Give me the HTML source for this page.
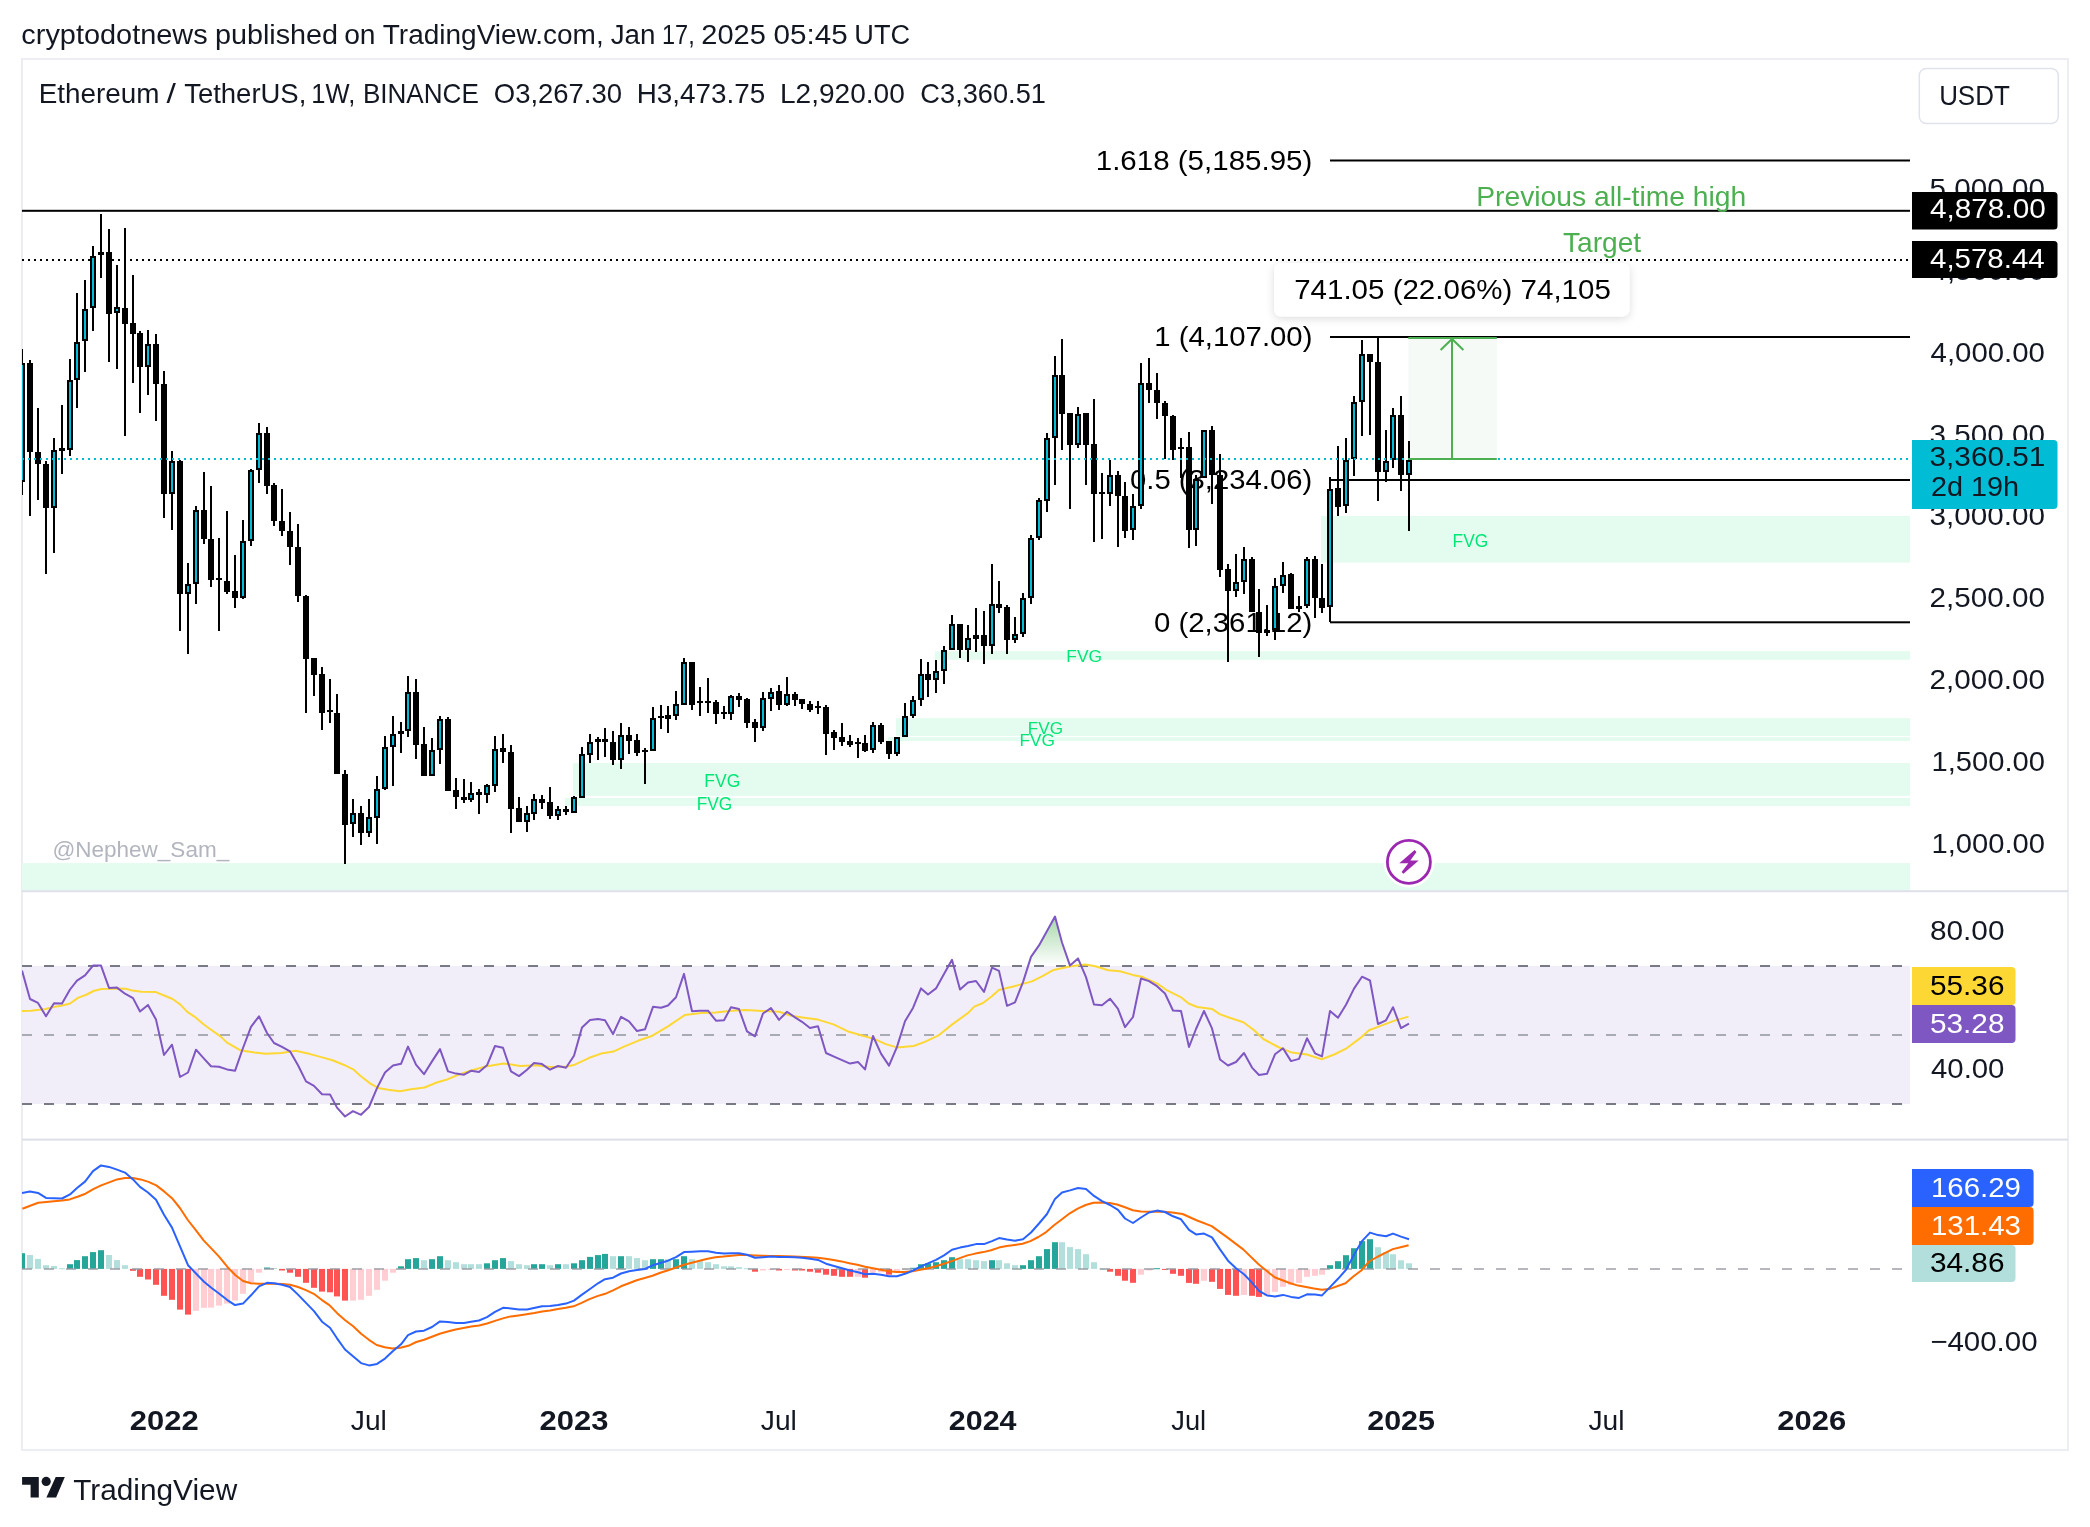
<!DOCTYPE html>
<html><head><meta charset="utf-8"><title>ETH/USDT chart</title>
<style>html,body{margin:0;padding:0;background:#fff;}
svg{display:block;will-change:transform;font-family:"Liberation Sans",sans-serif;}</style></head>
<body><svg width="2090" height="1527" viewBox="0 0 2090 1527">
<rect x="0" y="0" width="2090" height="1527" fill="#ffffff"/>
<defs><clipPath id="cc"><rect x="22" y="59" width="2046" height="1391"/></clipPath></defs>
<rect x="22" y="59" width="2046" height="1391" fill="none" stroke="#edeef3" stroke-width="2"/>
<rect x="21" y="59" width="1" height="1391" fill="#ebecf1"/>
<rect x="1321" y="516" width="589" height="46.6" fill="#e4fcef"/>
<rect x="935" y="651.2" width="975" height="8.6" fill="#e4fcef"/>
<rect x="896" y="718.2" width="1014" height="17.7" fill="#e4fcef"/>
<rect x="888" y="737.1" width="1022" height="3.9" fill="#e4fcef"/>
<rect x="573" y="763.1" width="1337" height="32.7" fill="#e4fcef"/>
<rect x="565" y="798" width="1345" height="8.0" fill="#e4fcef"/>
<rect x="22" y="863.1" width="1888" height="26.9" fill="#e4fcef"/>
<rect x="1408.3" y="338" width="88.5" height="121" fill="#f6faf7"/>
<rect x="22" y="209.8" width="1888" height="2" fill="#000"/>
<line x1="22" y1="260" x2="1910" y2="260" stroke="#000" stroke-width="2" stroke-dasharray="2 4"/>
<rect x="1330" y="159.5" width="580" height="2" fill="#000"/>
<rect x="1330" y="336.0" width="580" height="2" fill="#000"/>
<rect x="1330" y="479.0" width="580" height="2" fill="#000"/>
<rect x="1330" y="621.3" width="580" height="2" fill="#000"/>
<text transform="translate(1095.74,170.20) scale(1.0749,1)" font-size="27.47" fill="#000">1.618 (5,185.95)</text>
<text transform="translate(1154.33,346.10) scale(1.0674,1)" font-size="27.47" fill="#000">1 (4,107.00)</text>
<text transform="translate(1129.98,489.20) scale(1.0666,1)" font-size="27.47" fill="#000">0.5 (3,234.06)</text>
<text transform="translate(1153.98,632.00) scale(1.0696,1)" font-size="27.47" fill="#000">0 (2,361.12)</text>
<g clip-path="url(#cc)">
<rect x="21" y="349" width="2" height="146" fill="#000"/>
<rect x="19" y="363" width="6" height="119" fill="#000"/>
<rect x="21" y="365" width="2" height="115" fill="#00bcd4"/>
<rect x="29" y="360" width="2" height="156" fill="#000"/>
<rect x="27" y="363" width="6" height="89" fill="#000"/>
<rect x="37" y="408" width="2" height="92" fill="#000"/>
<rect x="35" y="452" width="6" height="12" fill="#000"/>
<rect x="45" y="461" width="2" height="113" fill="#000"/>
<rect x="43" y="464" width="6" height="44" fill="#000"/>
<rect x="53" y="438" width="2" height="115" fill="#000"/>
<rect x="51" y="450" width="6" height="58" fill="#000"/>
<rect x="53" y="452" width="2" height="54" fill="#00bcd4"/>
<rect x="61" y="405" width="2" height="69" fill="#000"/>
<rect x="59" y="448" width="6" height="3" fill="#000"/>
<rect x="69" y="359" width="2" height="97" fill="#000"/>
<rect x="67" y="380" width="6" height="70" fill="#000"/>
<rect x="69" y="382" width="2" height="66" fill="#00bcd4"/>
<rect x="76" y="293" width="2" height="115" fill="#000"/>
<rect x="74" y="342" width="6" height="38" fill="#000"/>
<rect x="76" y="344" width="2" height="34" fill="#00bcd4"/>
<rect x="84" y="280" width="2" height="92" fill="#000"/>
<rect x="82" y="309" width="6" height="32" fill="#000"/>
<rect x="84" y="311" width="2" height="28" fill="#00bcd4"/>
<rect x="92" y="246" width="2" height="85" fill="#000"/>
<rect x="90" y="256" width="6" height="52" fill="#000"/>
<rect x="92" y="258" width="2" height="48" fill="#00bcd4"/>
<rect x="100" y="214" width="2" height="64" fill="#000"/>
<rect x="98" y="252" width="6" height="3" fill="#000"/>
<rect x="108" y="229" width="2" height="133" fill="#000"/>
<rect x="106" y="252" width="6" height="62" fill="#000"/>
<rect x="116" y="265" width="2" height="104" fill="#000"/>
<rect x="114" y="307" width="6" height="6" fill="#000"/>
<rect x="116" y="309" width="2" height="2" fill="#00bcd4"/>
<rect x="124" y="228" width="2" height="208" fill="#000"/>
<rect x="122" y="308" width="6" height="16" fill="#000"/>
<rect x="132" y="275" width="2" height="108" fill="#000"/>
<rect x="130" y="323" width="6" height="11" fill="#000"/>
<rect x="139" y="331" width="2" height="82" fill="#000"/>
<rect x="137" y="333" width="6" height="34" fill="#000"/>
<rect x="147" y="330" width="2" height="65" fill="#000"/>
<rect x="145" y="344" width="6" height="23" fill="#000"/>
<rect x="147" y="346" width="2" height="19" fill="#00bcd4"/>
<rect x="155" y="334" width="2" height="87" fill="#000"/>
<rect x="153" y="344" width="6" height="40" fill="#000"/>
<rect x="163" y="371" width="2" height="147" fill="#000"/>
<rect x="161" y="384" width="6" height="110" fill="#000"/>
<rect x="171" y="451" width="2" height="79" fill="#000"/>
<rect x="169" y="461" width="6" height="33" fill="#000"/>
<rect x="171" y="463" width="2" height="29" fill="#00bcd4"/>
<rect x="179" y="460" width="2" height="171" fill="#000"/>
<rect x="177" y="461" width="6" height="133" fill="#000"/>
<rect x="187" y="563" width="2" height="91" fill="#000"/>
<rect x="185" y="584" width="6" height="10" fill="#000"/>
<rect x="187" y="586" width="2" height="6" fill="#00bcd4"/>
<rect x="195" y="506" width="2" height="98" fill="#000"/>
<rect x="193" y="510" width="6" height="74" fill="#000"/>
<rect x="195" y="512" width="2" height="70" fill="#00bcd4"/>
<rect x="203" y="472" width="2" height="72" fill="#000"/>
<rect x="201" y="510" width="6" height="29" fill="#000"/>
<rect x="210" y="486" width="2" height="101" fill="#000"/>
<rect x="208" y="539" width="6" height="41" fill="#000"/>
<rect x="218" y="538" width="2" height="93" fill="#000"/>
<rect x="216" y="578" width="6" height="2" fill="#000"/>
<rect x="226" y="511" width="2" height="83" fill="#000"/>
<rect x="224" y="581" width="6" height="11" fill="#000"/>
<rect x="234" y="555" width="2" height="53" fill="#000"/>
<rect x="232" y="591" width="6" height="7" fill="#000"/>
<rect x="242" y="520" width="2" height="79" fill="#000"/>
<rect x="240" y="541" width="6" height="57" fill="#000"/>
<rect x="242" y="543" width="2" height="53" fill="#00bcd4"/>
<rect x="250" y="469" width="2" height="77" fill="#000"/>
<rect x="248" y="470" width="6" height="71" fill="#000"/>
<rect x="250" y="472" width="2" height="67" fill="#00bcd4"/>
<rect x="258" y="423" width="2" height="60" fill="#000"/>
<rect x="256" y="433" width="6" height="37" fill="#000"/>
<rect x="258" y="435" width="2" height="33" fill="#00bcd4"/>
<rect x="266" y="427" width="2" height="67" fill="#000"/>
<rect x="264" y="433" width="6" height="53" fill="#000"/>
<rect x="273" y="483" width="2" height="43" fill="#000"/>
<rect x="271" y="485" width="6" height="36" fill="#000"/>
<rect x="281" y="489" width="2" height="47" fill="#000"/>
<rect x="279" y="521" width="6" height="10" fill="#000"/>
<rect x="289" y="512" width="2" height="53" fill="#000"/>
<rect x="287" y="531" width="6" height="16" fill="#000"/>
<rect x="297" y="524" width="2" height="78" fill="#000"/>
<rect x="295" y="547" width="6" height="49" fill="#000"/>
<rect x="305" y="595" width="2" height="118" fill="#000"/>
<rect x="303" y="596" width="6" height="63" fill="#000"/>
<rect x="313" y="658" width="2" height="38" fill="#000"/>
<rect x="311" y="658" width="6" height="17" fill="#000"/>
<rect x="321" y="667" width="2" height="63" fill="#000"/>
<rect x="319" y="674" width="6" height="39" fill="#000"/>
<rect x="329" y="679" width="2" height="44" fill="#000"/>
<rect x="327" y="710" width="6" height="2" fill="#000"/>
<rect x="336" y="694" width="2" height="80" fill="#000"/>
<rect x="334" y="713" width="6" height="61" fill="#000"/>
<rect x="344" y="770" width="2" height="94" fill="#000"/>
<rect x="342" y="774" width="6" height="51" fill="#000"/>
<rect x="352" y="799" width="2" height="38" fill="#000"/>
<rect x="350" y="813" width="6" height="11" fill="#000"/>
<rect x="352" y="815" width="2" height="7" fill="#00bcd4"/>
<rect x="360" y="806" width="2" height="39" fill="#000"/>
<rect x="358" y="813" width="6" height="20" fill="#000"/>
<rect x="368" y="799" width="2" height="38" fill="#000"/>
<rect x="366" y="817" width="6" height="16" fill="#000"/>
<rect x="368" y="819" width="2" height="12" fill="#00bcd4"/>
<rect x="376" y="776" width="2" height="68" fill="#000"/>
<rect x="374" y="789" width="6" height="29" fill="#000"/>
<rect x="376" y="791" width="2" height="25" fill="#00bcd4"/>
<rect x="384" y="736" width="2" height="54" fill="#000"/>
<rect x="382" y="747" width="6" height="42" fill="#000"/>
<rect x="384" y="749" width="2" height="38" fill="#00bcd4"/>
<rect x="392" y="716" width="2" height="70" fill="#000"/>
<rect x="390" y="734" width="6" height="13" fill="#000"/>
<rect x="392" y="736" width="2" height="9" fill="#00bcd4"/>
<rect x="400" y="722" width="2" height="31" fill="#000"/>
<rect x="398" y="731" width="6" height="3" fill="#000"/>
<rect x="407" y="676" width="2" height="61" fill="#000"/>
<rect x="405" y="692" width="6" height="39" fill="#000"/>
<rect x="407" y="694" width="2" height="35" fill="#00bcd4"/>
<rect x="415" y="679" width="2" height="80" fill="#000"/>
<rect x="413" y="692" width="6" height="53" fill="#000"/>
<rect x="423" y="727" width="2" height="49" fill="#000"/>
<rect x="421" y="744" width="6" height="32" fill="#000"/>
<rect x="431" y="738" width="2" height="38" fill="#000"/>
<rect x="429" y="750" width="6" height="26" fill="#000"/>
<rect x="431" y="752" width="2" height="22" fill="#00bcd4"/>
<rect x="439" y="716" width="2" height="48" fill="#000"/>
<rect x="437" y="719" width="6" height="31" fill="#000"/>
<rect x="439" y="721" width="2" height="27" fill="#00bcd4"/>
<rect x="447" y="717" width="2" height="74" fill="#000"/>
<rect x="445" y="719" width="6" height="72" fill="#000"/>
<rect x="455" y="778" width="2" height="31" fill="#000"/>
<rect x="453" y="790" width="6" height="7" fill="#000"/>
<rect x="463" y="779" width="2" height="24" fill="#000"/>
<rect x="461" y="797" width="6" height="3" fill="#000"/>
<rect x="470" y="782" width="2" height="20" fill="#000"/>
<rect x="468" y="793" width="6" height="7" fill="#000"/>
<rect x="470" y="795" width="2" height="3" fill="#00bcd4"/>
<rect x="478" y="789" width="2" height="25" fill="#000"/>
<rect x="476" y="792" width="6" height="3" fill="#000"/>
<rect x="486" y="784" width="2" height="19" fill="#000"/>
<rect x="484" y="785" width="6" height="10" fill="#000"/>
<rect x="486" y="787" width="2" height="6" fill="#00bcd4"/>
<rect x="494" y="736" width="2" height="56" fill="#000"/>
<rect x="492" y="749" width="6" height="37" fill="#000"/>
<rect x="494" y="751" width="2" height="33" fill="#00bcd4"/>
<rect x="502" y="734" width="2" height="29" fill="#000"/>
<rect x="500" y="748" width="6" height="4" fill="#000"/>
<rect x="510" y="745" width="2" height="88" fill="#000"/>
<rect x="508" y="752" width="6" height="57" fill="#000"/>
<rect x="518" y="797" width="2" height="25" fill="#000"/>
<rect x="516" y="808" width="6" height="14" fill="#000"/>
<rect x="526" y="806" width="2" height="26" fill="#000"/>
<rect x="524" y="813" width="6" height="9" fill="#000"/>
<rect x="526" y="815" width="2" height="5" fill="#00bcd4"/>
<rect x="533" y="794" width="2" height="26" fill="#000"/>
<rect x="531" y="799" width="6" height="15" fill="#000"/>
<rect x="533" y="801" width="2" height="11" fill="#00bcd4"/>
<rect x="541" y="795" width="2" height="14" fill="#000"/>
<rect x="539" y="799" width="6" height="4" fill="#000"/>
<rect x="549" y="787" width="2" height="32" fill="#000"/>
<rect x="547" y="802" width="6" height="14" fill="#000"/>
<rect x="557" y="806" width="2" height="14" fill="#000"/>
<rect x="555" y="809" width="6" height="7" fill="#000"/>
<rect x="557" y="811" width="2" height="3" fill="#00bcd4"/>
<rect x="565" y="806" width="2" height="9" fill="#000"/>
<rect x="563" y="809" width="6" height="3" fill="#000"/>
<rect x="573" y="796" width="2" height="17" fill="#000"/>
<rect x="571" y="797" width="6" height="16" fill="#000"/>
<rect x="573" y="799" width="2" height="12" fill="#00bcd4"/>
<rect x="581" y="747" width="2" height="51" fill="#000"/>
<rect x="579" y="754" width="6" height="44" fill="#000"/>
<rect x="581" y="756" width="2" height="40" fill="#00bcd4"/>
<rect x="589" y="734" width="2" height="29" fill="#000"/>
<rect x="587" y="742" width="6" height="13" fill="#000"/>
<rect x="589" y="744" width="2" height="9" fill="#00bcd4"/>
<rect x="597" y="737" width="2" height="23" fill="#000"/>
<rect x="595" y="739" width="6" height="3" fill="#000"/>
<rect x="604" y="728" width="2" height="29" fill="#000"/>
<rect x="602" y="739" width="6" height="3" fill="#000"/>
<rect x="612" y="731" width="2" height="34" fill="#000"/>
<rect x="610" y="742" width="6" height="18" fill="#000"/>
<rect x="620" y="723" width="2" height="46" fill="#000"/>
<rect x="618" y="735" width="6" height="25" fill="#000"/>
<rect x="620" y="737" width="2" height="21" fill="#00bcd4"/>
<rect x="628" y="727" width="2" height="27" fill="#000"/>
<rect x="626" y="735" width="6" height="6" fill="#000"/>
<rect x="636" y="734" width="2" height="22" fill="#000"/>
<rect x="634" y="740" width="6" height="13" fill="#000"/>
<rect x="644" y="748" width="2" height="36" fill="#000"/>
<rect x="642" y="750" width="6" height="2" fill="#000"/>
<rect x="652" y="707" width="2" height="44" fill="#000"/>
<rect x="650" y="718" width="6" height="33" fill="#000"/>
<rect x="652" y="720" width="2" height="29" fill="#00bcd4"/>
<rect x="660" y="705" width="2" height="24" fill="#000"/>
<rect x="658" y="716" width="6" height="2" fill="#000"/>
<rect x="667" y="706" width="2" height="27" fill="#000"/>
<rect x="665" y="715" width="6" height="4" fill="#000"/>
<rect x="675" y="691" width="2" height="29" fill="#000"/>
<rect x="673" y="704" width="6" height="12" fill="#000"/>
<rect x="675" y="706" width="2" height="8" fill="#00bcd4"/>
<rect x="683" y="658" width="2" height="47" fill="#000"/>
<rect x="681" y="662" width="6" height="43" fill="#000"/>
<rect x="683" y="664" width="2" height="39" fill="#00bcd4"/>
<rect x="691" y="662" width="2" height="48" fill="#000"/>
<rect x="689" y="662" width="6" height="43" fill="#000"/>
<rect x="699" y="687" width="2" height="29" fill="#000"/>
<rect x="697" y="701" width="6" height="2" fill="#000"/>
<rect x="707" y="678" width="2" height="35" fill="#000"/>
<rect x="705" y="701" width="6" height="2" fill="#000"/>
<rect x="715" y="700" width="2" height="24" fill="#000"/>
<rect x="713" y="702" width="6" height="12" fill="#000"/>
<rect x="723" y="706" width="2" height="13" fill="#000"/>
<rect x="721" y="712" width="6" height="2" fill="#000"/>
<rect x="730" y="695" width="2" height="25" fill="#000"/>
<rect x="728" y="696" width="6" height="18" fill="#000"/>
<rect x="730" y="698" width="2" height="14" fill="#00bcd4"/>
<rect x="738" y="693" width="2" height="14" fill="#000"/>
<rect x="736" y="696" width="6" height="4" fill="#000"/>
<rect x="746" y="698" width="2" height="30" fill="#000"/>
<rect x="744" y="699" width="6" height="24" fill="#000"/>
<rect x="754" y="719" width="2" height="23" fill="#000"/>
<rect x="752" y="722" width="6" height="6" fill="#000"/>
<rect x="762" y="692" width="2" height="39" fill="#000"/>
<rect x="760" y="698" width="6" height="30" fill="#000"/>
<rect x="762" y="700" width="2" height="26" fill="#00bcd4"/>
<rect x="770" y="688" width="2" height="23" fill="#000"/>
<rect x="768" y="692" width="6" height="7" fill="#000"/>
<rect x="770" y="694" width="2" height="3" fill="#00bcd4"/>
<rect x="778" y="685" width="2" height="25" fill="#000"/>
<rect x="776" y="691" width="6" height="14" fill="#000"/>
<rect x="786" y="677" width="2" height="29" fill="#000"/>
<rect x="784" y="694" width="6" height="11" fill="#000"/>
<rect x="786" y="696" width="2" height="7" fill="#00bcd4"/>
<rect x="794" y="692" width="2" height="14" fill="#000"/>
<rect x="792" y="694" width="6" height="6" fill="#000"/>
<rect x="801" y="699" width="2" height="10" fill="#000"/>
<rect x="799" y="699" width="6" height="5" fill="#000"/>
<rect x="809" y="701" width="2" height="11" fill="#000"/>
<rect x="807" y="704" width="6" height="6" fill="#000"/>
<rect x="817" y="701" width="2" height="13" fill="#000"/>
<rect x="815" y="706" width="6" height="2" fill="#000"/>
<rect x="825" y="705" width="2" height="50" fill="#000"/>
<rect x="823" y="707" width="6" height="27" fill="#000"/>
<rect x="833" y="730" width="2" height="20" fill="#000"/>
<rect x="831" y="732" width="6" height="6" fill="#000"/>
<rect x="841" y="723" width="2" height="23" fill="#000"/>
<rect x="839" y="737" width="6" height="5" fill="#000"/>
<rect x="849" y="735" width="2" height="12" fill="#000"/>
<rect x="847" y="741" width="6" height="4" fill="#000"/>
<rect x="857" y="738" width="2" height="20" fill="#000"/>
<rect x="855" y="742" width="6" height="2" fill="#000"/>
<rect x="864" y="735" width="2" height="17" fill="#000"/>
<rect x="862" y="743" width="6" height="8" fill="#000"/>
<rect x="872" y="722" width="2" height="31" fill="#000"/>
<rect x="870" y="725" width="6" height="25" fill="#000"/>
<rect x="872" y="727" width="2" height="21" fill="#00bcd4"/>
<rect x="880" y="723" width="2" height="21" fill="#000"/>
<rect x="878" y="725" width="6" height="17" fill="#000"/>
<rect x="888" y="741" width="2" height="18" fill="#000"/>
<rect x="886" y="741" width="6" height="13" fill="#000"/>
<rect x="896" y="737" width="2" height="19" fill="#000"/>
<rect x="894" y="737" width="6" height="17" fill="#000"/>
<rect x="896" y="739" width="2" height="13" fill="#00bcd4"/>
<rect x="904" y="703" width="2" height="34" fill="#000"/>
<rect x="902" y="716" width="6" height="21" fill="#000"/>
<rect x="904" y="718" width="2" height="17" fill="#00bcd4"/>
<rect x="912" y="696" width="2" height="22" fill="#000"/>
<rect x="910" y="700" width="6" height="16" fill="#000"/>
<rect x="912" y="702" width="2" height="12" fill="#00bcd4"/>
<rect x="920" y="659" width="2" height="47" fill="#000"/>
<rect x="918" y="674" width="6" height="26" fill="#000"/>
<rect x="920" y="676" width="2" height="22" fill="#00bcd4"/>
<rect x="927" y="662" width="2" height="35" fill="#000"/>
<rect x="925" y="674" width="6" height="6" fill="#000"/>
<rect x="935" y="660" width="2" height="33" fill="#000"/>
<rect x="933" y="671" width="6" height="9" fill="#000"/>
<rect x="935" y="673" width="2" height="5" fill="#00bcd4"/>
<rect x="943" y="646" width="2" height="38" fill="#000"/>
<rect x="941" y="650" width="6" height="21" fill="#000"/>
<rect x="943" y="652" width="2" height="17" fill="#00bcd4"/>
<rect x="951" y="615" width="2" height="35" fill="#000"/>
<rect x="949" y="624" width="6" height="26" fill="#000"/>
<rect x="951" y="626" width="2" height="22" fill="#00bcd4"/>
<rect x="959" y="624" width="2" height="34" fill="#000"/>
<rect x="957" y="624" width="6" height="26" fill="#000"/>
<rect x="967" y="625" width="2" height="37" fill="#000"/>
<rect x="965" y="638" width="6" height="12" fill="#000"/>
<rect x="967" y="640" width="2" height="8" fill="#00bcd4"/>
<rect x="975" y="608" width="2" height="44" fill="#000"/>
<rect x="973" y="635" width="6" height="4" fill="#000"/>
<rect x="983" y="611" width="2" height="53" fill="#000"/>
<rect x="981" y="635" width="6" height="11" fill="#000"/>
<rect x="991" y="564" width="2" height="90" fill="#000"/>
<rect x="989" y="604" width="6" height="42" fill="#000"/>
<rect x="991" y="606" width="2" height="38" fill="#00bcd4"/>
<rect x="998" y="581" width="2" height="32" fill="#000"/>
<rect x="996" y="604" width="6" height="4" fill="#000"/>
<rect x="1006" y="605" width="2" height="49" fill="#000"/>
<rect x="1004" y="607" width="6" height="33" fill="#000"/>
<rect x="1014" y="617" width="2" height="26" fill="#000"/>
<rect x="1012" y="634" width="6" height="6" fill="#000"/>
<rect x="1014" y="636" width="2" height="2" fill="#00bcd4"/>
<rect x="1022" y="593" width="2" height="44" fill="#000"/>
<rect x="1020" y="598" width="6" height="36" fill="#000"/>
<rect x="1022" y="600" width="2" height="32" fill="#00bcd4"/>
<rect x="1030" y="535" width="2" height="69" fill="#000"/>
<rect x="1028" y="538" width="6" height="60" fill="#000"/>
<rect x="1030" y="540" width="2" height="56" fill="#00bcd4"/>
<rect x="1038" y="498" width="2" height="42" fill="#000"/>
<rect x="1036" y="500" width="6" height="38" fill="#000"/>
<rect x="1038" y="502" width="2" height="34" fill="#00bcd4"/>
<rect x="1046" y="433" width="2" height="79" fill="#000"/>
<rect x="1044" y="438" width="6" height="63" fill="#000"/>
<rect x="1046" y="440" width="2" height="59" fill="#00bcd4"/>
<rect x="1054" y="356" width="2" height="129" fill="#000"/>
<rect x="1052" y="375" width="6" height="63" fill="#000"/>
<rect x="1054" y="377" width="2" height="59" fill="#00bcd4"/>
<rect x="1061" y="339" width="2" height="111" fill="#000"/>
<rect x="1059" y="375" width="6" height="39" fill="#000"/>
<rect x="1069" y="413" width="2" height="96" fill="#000"/>
<rect x="1067" y="413" width="6" height="32" fill="#000"/>
<rect x="1077" y="407" width="2" height="41" fill="#000"/>
<rect x="1075" y="414" width="6" height="31" fill="#000"/>
<rect x="1077" y="416" width="2" height="27" fill="#00bcd4"/>
<rect x="1085" y="413" width="2" height="72" fill="#000"/>
<rect x="1083" y="413" width="6" height="32" fill="#000"/>
<rect x="1093" y="399" width="2" height="143" fill="#000"/>
<rect x="1091" y="444" width="6" height="50" fill="#000"/>
<rect x="1101" y="473" width="2" height="66" fill="#000"/>
<rect x="1099" y="492" width="6" height="2" fill="#000"/>
<rect x="1109" y="460" width="2" height="46" fill="#000"/>
<rect x="1107" y="475" width="6" height="19" fill="#000"/>
<rect x="1109" y="477" width="2" height="15" fill="#00bcd4"/>
<rect x="1117" y="471" width="2" height="76" fill="#000"/>
<rect x="1115" y="475" width="6" height="21" fill="#000"/>
<rect x="1124" y="482" width="2" height="56" fill="#000"/>
<rect x="1122" y="496" width="6" height="35" fill="#000"/>
<rect x="1132" y="494" width="2" height="46" fill="#000"/>
<rect x="1130" y="506" width="6" height="24" fill="#000"/>
<rect x="1132" y="508" width="2" height="20" fill="#00bcd4"/>
<rect x="1140" y="363" width="2" height="146" fill="#000"/>
<rect x="1138" y="383" width="6" height="123" fill="#000"/>
<rect x="1140" y="385" width="2" height="119" fill="#00bcd4"/>
<rect x="1148" y="358" width="2" height="45" fill="#000"/>
<rect x="1146" y="383" width="6" height="7" fill="#000"/>
<rect x="1156" y="373" width="2" height="46" fill="#000"/>
<rect x="1154" y="390" width="6" height="13" fill="#000"/>
<rect x="1164" y="401" width="2" height="58" fill="#000"/>
<rect x="1162" y="403" width="6" height="13" fill="#000"/>
<rect x="1172" y="415" width="2" height="45" fill="#000"/>
<rect x="1170" y="416" width="6" height="34" fill="#000"/>
<rect x="1180" y="438" width="2" height="40" fill="#000"/>
<rect x="1178" y="447" width="6" height="2" fill="#000"/>
<rect x="1188" y="432" width="2" height="116" fill="#000"/>
<rect x="1186" y="447" width="6" height="83" fill="#000"/>
<rect x="1195" y="475" width="2" height="71" fill="#000"/>
<rect x="1193" y="479" width="6" height="51" fill="#000"/>
<rect x="1195" y="481" width="2" height="47" fill="#00bcd4"/>
<rect x="1203" y="430" width="2" height="48" fill="#000"/>
<rect x="1201" y="430" width="6" height="48" fill="#000"/>
<rect x="1203" y="432" width="2" height="44" fill="#00bcd4"/>
<rect x="1211" y="426" width="2" height="78" fill="#000"/>
<rect x="1209" y="430" width="6" height="45" fill="#000"/>
<rect x="1219" y="454" width="2" height="123" fill="#000"/>
<rect x="1217" y="475" width="6" height="95" fill="#000"/>
<rect x="1227" y="564" width="2" height="98" fill="#000"/>
<rect x="1225" y="569" width="6" height="22" fill="#000"/>
<rect x="1235" y="554" width="2" height="43" fill="#000"/>
<rect x="1233" y="582" width="6" height="9" fill="#000"/>
<rect x="1235" y="584" width="2" height="5" fill="#00bcd4"/>
<rect x="1243" y="547" width="2" height="47" fill="#000"/>
<rect x="1241" y="559" width="6" height="23" fill="#000"/>
<rect x="1243" y="561" width="2" height="19" fill="#00bcd4"/>
<rect x="1251" y="557" width="2" height="55" fill="#000"/>
<rect x="1249" y="559" width="6" height="53" fill="#000"/>
<rect x="1258" y="589" width="2" height="68" fill="#000"/>
<rect x="1256" y="612" width="6" height="21" fill="#000"/>
<rect x="1266" y="605" width="2" height="31" fill="#000"/>
<rect x="1264" y="630" width="6" height="3" fill="#000"/>
<rect x="1274" y="578" width="2" height="62" fill="#000"/>
<rect x="1272" y="586" width="6" height="44" fill="#000"/>
<rect x="1274" y="588" width="2" height="40" fill="#00bcd4"/>
<rect x="1282" y="562" width="2" height="31" fill="#000"/>
<rect x="1280" y="575" width="6" height="11" fill="#000"/>
<rect x="1282" y="577" width="2" height="7" fill="#00bcd4"/>
<rect x="1290" y="573" width="2" height="36" fill="#000"/>
<rect x="1288" y="574" width="6" height="35" fill="#000"/>
<rect x="1298" y="596" width="2" height="16" fill="#000"/>
<rect x="1296" y="606" width="6" height="3" fill="#000"/>
<rect x="1306" y="557" width="2" height="51" fill="#000"/>
<rect x="1304" y="559" width="6" height="47" fill="#000"/>
<rect x="1306" y="561" width="2" height="43" fill="#00bcd4"/>
<rect x="1314" y="556" width="2" height="62" fill="#000"/>
<rect x="1312" y="559" width="6" height="39" fill="#000"/>
<rect x="1321" y="564" width="2" height="49" fill="#000"/>
<rect x="1319" y="598" width="6" height="10" fill="#000"/>
<rect x="1329" y="477" width="2" height="145" fill="#000"/>
<rect x="1327" y="489" width="6" height="118" fill="#000"/>
<rect x="1329" y="491" width="2" height="114" fill="#00bcd4"/>
<rect x="1337" y="446" width="2" height="70" fill="#000"/>
<rect x="1335" y="488" width="6" height="19" fill="#000"/>
<rect x="1345" y="438" width="2" height="75" fill="#000"/>
<rect x="1343" y="460" width="6" height="46" fill="#000"/>
<rect x="1345" y="462" width="2" height="42" fill="#00bcd4"/>
<rect x="1353" y="396" width="2" height="80" fill="#000"/>
<rect x="1351" y="402" width="6" height="57" fill="#000"/>
<rect x="1353" y="404" width="2" height="53" fill="#00bcd4"/>
<rect x="1361" y="340" width="2" height="96" fill="#000"/>
<rect x="1359" y="354" width="6" height="48" fill="#000"/>
<rect x="1361" y="356" width="2" height="44" fill="#00bcd4"/>
<rect x="1369" y="354" width="2" height="81" fill="#000"/>
<rect x="1367" y="354" width="6" height="8" fill="#000"/>
<rect x="1377" y="337" width="2" height="164" fill="#000"/>
<rect x="1375" y="362" width="6" height="110" fill="#000"/>
<rect x="1385" y="430" width="2" height="52" fill="#000"/>
<rect x="1383" y="461" width="6" height="11" fill="#000"/>
<rect x="1385" y="463" width="2" height="7" fill="#00bcd4"/>
<rect x="1392" y="408" width="2" height="60" fill="#000"/>
<rect x="1390" y="415" width="6" height="45" fill="#000"/>
<rect x="1392" y="417" width="2" height="41" fill="#00bcd4"/>
<rect x="1400" y="396" width="2" height="95" fill="#000"/>
<rect x="1398" y="415" width="6" height="60" fill="#000"/>
<rect x="1408" y="441" width="2" height="90" fill="#000"/>
<rect x="1406" y="460" width="6" height="15" fill="#000"/>
<rect x="1408" y="462" width="2" height="11" fill="#00bcd4"/>
<line x1="22" y1="459" x2="1910" y2="459" stroke="#00bcd4" stroke-width="2" stroke-dasharray="2 4"/>
<rect x="1408.3" y="337" width="88.5" height="2" fill="#4caf50"/>
<rect x="1408.3" y="458" width="88.5" height="2" fill="#4caf50"/>
<line x1="1452" y1="339" x2="1452" y2="459" stroke="#4caf50" stroke-width="2"/>
<polyline points="1440.6,350 1452,339 1463.4,350" fill="none" stroke="#4caf50" stroke-width="2"/>
<defs><filter id="sh" x="-10%" y="-30%" width="120%" height="170%"><feDropShadow dx="0" dy="2" stdDeviation="4" flood-color="#000" flood-opacity="0.14"/></filter></defs>
<rect x="1274" y="263" width="355.5" height="53.5" rx="7" fill="#fff" filter="url(#sh)"/>
<text transform="translate(1294.18,298.90) scale(1.0748,1)" font-size="27.47" fill="#000">741.05 (22.06%) 74,105</text>
<text transform="translate(1476.17,205.80) scale(1.0457,1)" font-size="27.03" fill="#4caf50">Previous all-time high</text>
<text transform="translate(1562.99,251.80) scale(1.0411,1)" font-size="27.03" fill="#4caf50">Target</text>
<text transform="translate(1452.51,546.80) scale(0.9500,1)" font-size="18.31" fill="#00e676">FVG</text>
<text transform="translate(1066.30,661.60) scale(1.0059,1)" font-size="17.30" fill="#00e676">FVG</text>
<text transform="translate(1027.73,733.70) scale(0.9938,1)" font-size="17.30" fill="#00e676">FVG</text>
<text x="1019.51" y="745.50" font-size="17.30" fill="#00e676">FVG</text>
<text transform="translate(704.30,786.80) scale(0.9634,1)" font-size="18.17" fill="#00e676">FVG</text>
<text transform="translate(696.72,809.80) scale(0.9519,1)" font-size="18.17" fill="#00e676">FVG</text>
<text x="52.38" y="856.80" font-size="22.53" fill="#b2b5be">@Nephew_Sam_</text>
<circle cx="1408.9" cy="861.9" r="25.5" fill="#fff"/>
<circle cx="1408.9" cy="861.9" r="21.5" fill="#fff" stroke="#9c27b0" stroke-width="2.8"/>
<path d="M1399.3,863.3 L1414.6,850 L1416.5,852 L1410.3,860.5 L1418.7,860.5 L1403.4,873.8 L1401.6,872 L1408.3,863.3 Z" fill="#9c27b0"/>
<rect x="22" y="966" width="1888" height="138" fill="#f2eef9"/>
<line x1="22" y1="966" x2="1910" y2="966" stroke="#787b86" stroke-width="2" stroke-dasharray="10 12"/>
<line x1="22" y1="1035" x2="1910" y2="1035" stroke="#a9abb3" stroke-width="2" stroke-dasharray="10 12"/>
<line x1="22" y1="1104" x2="1910" y2="1104" stroke="#787b86" stroke-width="2" stroke-dasharray="10 12"/>
<defs><linearGradient id="gob" gradientUnits="userSpaceOnUse" x1="0" y1="916" x2="0" y2="966"><stop offset="0" stop-color="#4caf50" stop-opacity="0.5"/><stop offset="1" stop-color="#4caf50" stop-opacity="0"/></linearGradient><linearGradient id="gos" gradientUnits="userSpaceOnUse" x1="0" y1="1104" x2="0" y2="1118"><stop offset="0" stop-color="#f44336" stop-opacity="0"/><stop offset="1" stop-color="#f44336" stop-opacity="0.08"/></linearGradient><clipPath id="cob"><rect x="0" y="900" width="2090" height="66"/></clipPath><clipPath id="cos"><rect x="0" y="1104" width="2090" height="30"/></clipPath></defs>
<polygon points="22.0,966 22.0,970.6 30.0,999.0 38.0,1002.9 46.0,1016.3 54.0,1003.2 62.0,1003.5 70.0,989.5 77.0,980.6 85.0,975.4 93.0,965.6 101.0,965.6 109.0,987.9 117.0,987.6 125.0,993.7 133.0,998.1 140.0,1011.5 148.0,1004.9 156.0,1019.6 164.0,1055.0 172.0,1044.7 180.0,1077.0 188.0,1072.5 196.0,1049.7 204.0,1058.6 211.0,1066.2 219.0,1066.7 227.0,1069.4 235.0,1070.8 243.0,1048.0 251.0,1026.8 259.0,1016.3 267.0,1033.0 274.0,1043.0 282.0,1046.9 290.0,1051.3 298.0,1065.3 306.0,1081.4 314.0,1085.9 322.0,1094.2 330.0,1094.4 337.0,1107.6 345.0,1116.5 353.0,1111.2 361.0,1114.8 369.0,1107.0 377.0,1088.1 385.0,1072.5 393.0,1065.6 401.0,1063.8 408.0,1046.6 416.0,1064.7 424.0,1074.2 432.0,1061.4 440.0,1049.1 448.0,1071.4 456.0,1073.6 464.0,1074.7 471.0,1070.8 479.0,1071.9 487.0,1065.3 495.0,1046.0 503.0,1047.7 511.0,1071.4 519.0,1076.1 527.0,1069.7 534.0,1063.0 542.0,1064.1 550.0,1069.7 558.0,1066.0 566.0,1067.8 574.0,1055.8 582.0,1027.4 590.0,1019.9 598.0,1018.9 605.0,1020.2 613.0,1034.1 621.0,1016.8 629.0,1021.3 637.0,1031.1 645.0,1029.3 653.0,1006.8 661.0,1007.7 668.0,1005.5 676.0,997.3 684.0,973.9 692.0,1011.2 700.0,1010.7 708.0,1010.7 716.0,1020.7 724.0,1020.2 731.0,1007.3 739.0,1009.0 747.0,1031.3 755.0,1036.3 763.0,1013.5 771.0,1008.1 779.0,1019.9 787.0,1011.8 795.0,1017.4 802.0,1021.8 810.0,1028.0 818.0,1026.3 826.0,1053.0 834.0,1056.7 842.0,1060.2 850.0,1063.6 858.0,1061.9 865.0,1069.4 873.0,1036.0 881.0,1053.6 889.0,1065.6 897.0,1046.9 905.0,1021.3 913.0,1007.9 921.0,988.4 928.0,994.5 936.0,988.4 944.0,973.9 952.0,959.8 960.0,989.5 968.0,982.5 976.0,981.0 984.0,991.9 992.0,967.7 999.0,970.9 1007.0,1005.9 1015.0,1002.3 1023.0,982.1 1031.0,956.9 1039.0,945.4 1047.0,931.0 1055.0,916.6 1062.0,942.5 1070.0,965.6 1078.0,958.4 1086.0,977.1 1094.0,1004.5 1102.0,1005.2 1110.0,998.7 1118.0,1008.8 1125.0,1027.1 1133.0,1017.0 1141.0,978.5 1149.0,981.1 1157.0,986.2 1165.0,993.5 1173.0,1010.5 1181.0,1011.0 1189.0,1047.0 1196.0,1029.0 1204.0,1011.0 1212.0,1028.4 1220.0,1059.5 1228.0,1065.5 1236.0,1062.0 1244.0,1053.0 1252.0,1067.6 1259.0,1075.0 1267.0,1073.8 1275.0,1054.3 1283.0,1048.3 1291.0,1061.1 1299.0,1058.9 1307.0,1038.3 1315.0,1053.3 1322.0,1056.4 1330.0,1011.0 1338.0,1017.8 1346.0,1004.7 1354.0,988.6 1362.0,976.7 1370.0,980.5 1378.0,1024.0 1386.0,1020.3 1393.0,1007.2 1401.0,1028.1 1409.0,1023.6 1409.0,966" fill="url(#gob)" clip-path="url(#cob)"/>
<polygon points="22.0,1104 22.0,970.6 30.0,999.0 38.0,1002.9 46.0,1016.3 54.0,1003.2 62.0,1003.5 70.0,989.5 77.0,980.6 85.0,975.4 93.0,965.6 101.0,965.6 109.0,987.9 117.0,987.6 125.0,993.7 133.0,998.1 140.0,1011.5 148.0,1004.9 156.0,1019.6 164.0,1055.0 172.0,1044.7 180.0,1077.0 188.0,1072.5 196.0,1049.7 204.0,1058.6 211.0,1066.2 219.0,1066.7 227.0,1069.4 235.0,1070.8 243.0,1048.0 251.0,1026.8 259.0,1016.3 267.0,1033.0 274.0,1043.0 282.0,1046.9 290.0,1051.3 298.0,1065.3 306.0,1081.4 314.0,1085.9 322.0,1094.2 330.0,1094.4 337.0,1107.6 345.0,1116.5 353.0,1111.2 361.0,1114.8 369.0,1107.0 377.0,1088.1 385.0,1072.5 393.0,1065.6 401.0,1063.8 408.0,1046.6 416.0,1064.7 424.0,1074.2 432.0,1061.4 440.0,1049.1 448.0,1071.4 456.0,1073.6 464.0,1074.7 471.0,1070.8 479.0,1071.9 487.0,1065.3 495.0,1046.0 503.0,1047.7 511.0,1071.4 519.0,1076.1 527.0,1069.7 534.0,1063.0 542.0,1064.1 550.0,1069.7 558.0,1066.0 566.0,1067.8 574.0,1055.8 582.0,1027.4 590.0,1019.9 598.0,1018.9 605.0,1020.2 613.0,1034.1 621.0,1016.8 629.0,1021.3 637.0,1031.1 645.0,1029.3 653.0,1006.8 661.0,1007.7 668.0,1005.5 676.0,997.3 684.0,973.9 692.0,1011.2 700.0,1010.7 708.0,1010.7 716.0,1020.7 724.0,1020.2 731.0,1007.3 739.0,1009.0 747.0,1031.3 755.0,1036.3 763.0,1013.5 771.0,1008.1 779.0,1019.9 787.0,1011.8 795.0,1017.4 802.0,1021.8 810.0,1028.0 818.0,1026.3 826.0,1053.0 834.0,1056.7 842.0,1060.2 850.0,1063.6 858.0,1061.9 865.0,1069.4 873.0,1036.0 881.0,1053.6 889.0,1065.6 897.0,1046.9 905.0,1021.3 913.0,1007.9 921.0,988.4 928.0,994.5 936.0,988.4 944.0,973.9 952.0,959.8 960.0,989.5 968.0,982.5 976.0,981.0 984.0,991.9 992.0,967.7 999.0,970.9 1007.0,1005.9 1015.0,1002.3 1023.0,982.1 1031.0,956.9 1039.0,945.4 1047.0,931.0 1055.0,916.6 1062.0,942.5 1070.0,965.6 1078.0,958.4 1086.0,977.1 1094.0,1004.5 1102.0,1005.2 1110.0,998.7 1118.0,1008.8 1125.0,1027.1 1133.0,1017.0 1141.0,978.5 1149.0,981.1 1157.0,986.2 1165.0,993.5 1173.0,1010.5 1181.0,1011.0 1189.0,1047.0 1196.0,1029.0 1204.0,1011.0 1212.0,1028.4 1220.0,1059.5 1228.0,1065.5 1236.0,1062.0 1244.0,1053.0 1252.0,1067.6 1259.0,1075.0 1267.0,1073.8 1275.0,1054.3 1283.0,1048.3 1291.0,1061.1 1299.0,1058.9 1307.0,1038.3 1315.0,1053.3 1322.0,1056.4 1330.0,1011.0 1338.0,1017.8 1346.0,1004.7 1354.0,988.6 1362.0,976.7 1370.0,980.5 1378.0,1024.0 1386.0,1020.3 1393.0,1007.2 1401.0,1028.1 1409.0,1023.6 1409.0,1104" fill="url(#gos)" clip-path="url(#cos)"/>
<polyline points="22.0,1011.0 31.1,1010.7 45.6,1009.0 53.4,1007.0 61.2,1005.7 70.1,1003.5 77.9,997.9 86.8,994.5 93.5,991.0 101.3,989.0 109.1,988.8 116.9,988.4 125.8,988.8 132.5,990.6 141.4,991.8 155.9,992.1 164.8,995.7 172.6,999.0 180.4,1004.6 187.0,1011.6 194.8,1016.8 202.6,1023.5 210.0,1029.0 221.1,1036.9 226.7,1042.4 240.1,1050.2 254.5,1052.4 265.7,1053.8 281.3,1053.0 295.7,1050.8 310.2,1054.1 321.4,1057.1 332.5,1060.2 343.6,1064.7 353.7,1069.7 360.3,1075.8 370.4,1083.6 378.2,1087.9 388.2,1089.8 400.0,1091.2 411.1,1089.2 424.5,1087.5 436.7,1082.5 447.9,1079.2 459.0,1074.5 471.3,1070.5 485.7,1066.4 503.6,1063.4 520.3,1066.0 535.9,1065.3 550.3,1066.9 567.0,1066.4 574.8,1064.7 589.3,1057.8 601.1,1053.6 613.4,1051.6 623.4,1046.9 637.9,1040.8 652.4,1035.7 668.0,1026.3 684.7,1015.1 701.4,1012.9 715.8,1012.4 731.4,1010.7 745.9,1010.1 762.6,1011.0 779.3,1011.8 791.1,1015.7 802.3,1017.4 817.9,1019.6 833.5,1024.4 849.0,1031.8 864.6,1036.3 874.7,1039.1 885.8,1044.1 896.9,1047.4 913.6,1046.0 924.8,1041.9 938.1,1035.7 952.6,1024.1 968.2,1012.9 974.3,1006.6 983.0,1003.0 991.6,996.5 998.8,990.0 1013.2,986.5 1032.0,981.4 1042.0,976.4 1053.6,969.9 1070.9,966.3 1085.3,964.6 1095.4,966.3 1108.3,970.3 1119.9,971.3 1132.8,974.9 1142.9,977.1 1157.3,983.6 1166.2,989.8 1181.1,997.3 1188.6,1003.5 1197.3,1007.0 1212.3,1009.1 1219.7,1014.1 1229.7,1017.8 1243.4,1022.2 1253.3,1029.6 1263.3,1039.0 1278.2,1047.0 1291.9,1052.6 1306.8,1054.5 1321.7,1059.2 1334.2,1054.5 1346.6,1048.3 1361.5,1037.1 1369.0,1030.2 1383.9,1024.6 1393.9,1020.9 1408.5,1016.6" fill="none" stroke="#fdd835" stroke-width="2" stroke-linejoin="round"/>
<polyline points="22.0,970.6 30.0,999.0 38.0,1002.9 46.0,1016.3 54.0,1003.2 62.0,1003.5 70.0,989.5 77.0,980.6 85.0,975.4 93.0,965.6 101.0,965.6 109.0,987.9 117.0,987.6 125.0,993.7 133.0,998.1 140.0,1011.5 148.0,1004.9 156.0,1019.6 164.0,1055.0 172.0,1044.7 180.0,1077.0 188.0,1072.5 196.0,1049.7 204.0,1058.6 211.0,1066.2 219.0,1066.7 227.0,1069.4 235.0,1070.8 243.0,1048.0 251.0,1026.8 259.0,1016.3 267.0,1033.0 274.0,1043.0 282.0,1046.9 290.0,1051.3 298.0,1065.3 306.0,1081.4 314.0,1085.9 322.0,1094.2 330.0,1094.4 337.0,1107.6 345.0,1116.5 353.0,1111.2 361.0,1114.8 369.0,1107.0 377.0,1088.1 385.0,1072.5 393.0,1065.6 401.0,1063.8 408.0,1046.6 416.0,1064.7 424.0,1074.2 432.0,1061.4 440.0,1049.1 448.0,1071.4 456.0,1073.6 464.0,1074.7 471.0,1070.8 479.0,1071.9 487.0,1065.3 495.0,1046.0 503.0,1047.7 511.0,1071.4 519.0,1076.1 527.0,1069.7 534.0,1063.0 542.0,1064.1 550.0,1069.7 558.0,1066.0 566.0,1067.8 574.0,1055.8 582.0,1027.4 590.0,1019.9 598.0,1018.9 605.0,1020.2 613.0,1034.1 621.0,1016.8 629.0,1021.3 637.0,1031.1 645.0,1029.3 653.0,1006.8 661.0,1007.7 668.0,1005.5 676.0,997.3 684.0,973.9 692.0,1011.2 700.0,1010.7 708.0,1010.7 716.0,1020.7 724.0,1020.2 731.0,1007.3 739.0,1009.0 747.0,1031.3 755.0,1036.3 763.0,1013.5 771.0,1008.1 779.0,1019.9 787.0,1011.8 795.0,1017.4 802.0,1021.8 810.0,1028.0 818.0,1026.3 826.0,1053.0 834.0,1056.7 842.0,1060.2 850.0,1063.6 858.0,1061.9 865.0,1069.4 873.0,1036.0 881.0,1053.6 889.0,1065.6 897.0,1046.9 905.0,1021.3 913.0,1007.9 921.0,988.4 928.0,994.5 936.0,988.4 944.0,973.9 952.0,959.8 960.0,989.5 968.0,982.5 976.0,981.0 984.0,991.9 992.0,967.7 999.0,970.9 1007.0,1005.9 1015.0,1002.3 1023.0,982.1 1031.0,956.9 1039.0,945.4 1047.0,931.0 1055.0,916.6 1062.0,942.5 1070.0,965.6 1078.0,958.4 1086.0,977.1 1094.0,1004.5 1102.0,1005.2 1110.0,998.7 1118.0,1008.8 1125.0,1027.1 1133.0,1017.0 1141.0,978.5 1149.0,981.1 1157.0,986.2 1165.0,993.5 1173.0,1010.5 1181.0,1011.0 1189.0,1047.0 1196.0,1029.0 1204.0,1011.0 1212.0,1028.4 1220.0,1059.5 1228.0,1065.5 1236.0,1062.0 1244.0,1053.0 1252.0,1067.6 1259.0,1075.0 1267.0,1073.8 1275.0,1054.3 1283.0,1048.3 1291.0,1061.1 1299.0,1058.9 1307.0,1038.3 1315.0,1053.3 1322.0,1056.4 1330.0,1011.0 1338.0,1017.8 1346.0,1004.7 1354.0,988.6 1362.0,976.7 1370.0,980.5 1378.0,1024.0 1386.0,1020.3 1393.0,1007.2 1401.0,1028.1 1409.0,1023.6" fill="none" stroke="#7e57c2" stroke-width="2" stroke-linejoin="round"/>
<rect x="19" y="1253.2" width="6" height="15.7" fill="#26a69a"/>
<rect x="27" y="1255.0" width="6" height="13.9" fill="#b2dfdb"/>
<rect x="35" y="1258.9" width="6" height="10.0" fill="#b2dfdb"/>
<rect x="43" y="1265.2" width="6" height="3.7" fill="#b2dfdb"/>
<rect x="51" y="1266.0" width="6" height="2.9" fill="#b2dfdb"/>
<rect x="59" y="1268.2" width="6" height="1.0" fill="#b2dfdb"/>
<rect x="67" y="1264.2" width="6" height="4.7" fill="#26a69a"/>
<rect x="74" y="1260.1" width="6" height="8.8" fill="#26a69a"/>
<rect x="82" y="1256.2" width="6" height="12.7" fill="#26a69a"/>
<rect x="90" y="1252.1" width="6" height="16.8" fill="#26a69a"/>
<rect x="98" y="1250.2" width="6" height="18.7" fill="#26a69a"/>
<rect x="106" y="1255.0" width="6" height="13.9" fill="#b2dfdb"/>
<rect x="114" y="1260.1" width="6" height="8.8" fill="#b2dfdb"/>
<rect x="122" y="1265.2" width="6" height="3.7" fill="#b2dfdb"/>
<rect x="130" y="1268.9" width="6" height="1.9" fill="#ff5252"/>
<rect x="137" y="1268.9" width="6" height="7.9" fill="#ff5252"/>
<rect x="145" y="1268.9" width="6" height="10.6" fill="#ff5252"/>
<rect x="153" y="1268.9" width="6" height="15.9" fill="#ff5252"/>
<rect x="161" y="1268.9" width="6" height="26.9" fill="#ff5252"/>
<rect x="169" y="1268.9" width="6" height="30.9" fill="#ff5252"/>
<rect x="177" y="1268.9" width="6" height="40.7" fill="#ff5252"/>
<rect x="185" y="1268.9" width="6" height="45.7" fill="#ff5252"/>
<rect x="193" y="1268.9" width="6" height="41.9" fill="#ffcdd2"/>
<rect x="201" y="1268.9" width="6" height="38.9" fill="#ffcdd2"/>
<rect x="208" y="1268.9" width="6" height="38.7" fill="#ffcdd2"/>
<rect x="216" y="1268.9" width="6" height="36.7" fill="#ffcdd2"/>
<rect x="224" y="1268.9" width="6" height="34.7" fill="#ffcdd2"/>
<rect x="232" y="1268.9" width="6" height="31.7" fill="#ffcdd2"/>
<rect x="240" y="1268.9" width="6" height="24.9" fill="#ffcdd2"/>
<rect x="248" y="1268.9" width="6" height="13.6" fill="#ffcdd2"/>
<rect x="256" y="1268.9" width="6" height="3.8" fill="#ffcdd2"/>
<rect x="264" y="1267.5" width="6" height="1.4" fill="#26a69a"/>
<rect x="271" y="1268.0" width="6" height="1.0" fill="#b2dfdb"/>
<rect x="279" y="1268.9" width="6" height="1.6" fill="#ff5252"/>
<rect x="287" y="1268.9" width="6" height="3.8" fill="#ff5252"/>
<rect x="295" y="1268.9" width="6" height="7.9" fill="#ff5252"/>
<rect x="303" y="1268.9" width="6" height="13.9" fill="#ff5252"/>
<rect x="311" y="1268.9" width="6" height="18.9" fill="#ff5252"/>
<rect x="319" y="1268.9" width="6" height="22.7" fill="#ff5252"/>
<rect x="327" y="1268.9" width="6" height="23.4" fill="#ff5252"/>
<rect x="334" y="1268.9" width="6" height="27.5" fill="#ff5252"/>
<rect x="342" y="1268.9" width="6" height="31.7" fill="#ff5252"/>
<rect x="350" y="1268.9" width="6" height="31.7" fill="#ffcdd2"/>
<rect x="358" y="1268.9" width="6" height="30.9" fill="#ffcdd2"/>
<rect x="366" y="1268.9" width="6" height="26.9" fill="#ffcdd2"/>
<rect x="374" y="1268.9" width="6" height="20.9" fill="#ffcdd2"/>
<rect x="382" y="1268.9" width="6" height="11.8" fill="#ffcdd2"/>
<rect x="390" y="1268.9" width="6" height="3.8" fill="#ffcdd2"/>
<rect x="398" y="1266.3" width="6" height="2.6" fill="#26a69a"/>
<rect x="405" y="1259.2" width="6" height="9.7" fill="#26a69a"/>
<rect x="413" y="1258.1" width="6" height="10.8" fill="#26a69a"/>
<rect x="421" y="1260.2" width="6" height="8.7" fill="#b2dfdb"/>
<rect x="429" y="1259.2" width="6" height="9.7" fill="#26a69a"/>
<rect x="437" y="1256.2" width="6" height="12.7" fill="#26a69a"/>
<rect x="445" y="1260.2" width="6" height="8.7" fill="#b2dfdb"/>
<rect x="453" y="1262.2" width="6" height="6.7" fill="#b2dfdb"/>
<rect x="461" y="1264.2" width="6" height="4.7" fill="#b2dfdb"/>
<rect x="468" y="1264.2" width="6" height="4.7" fill="#b2dfdb"/>
<rect x="476" y="1264.2" width="6" height="4.7" fill="#b2dfdb"/>
<rect x="484" y="1263.3" width="6" height="5.6" fill="#26a69a"/>
<rect x="492" y="1260.2" width="6" height="8.7" fill="#26a69a"/>
<rect x="500" y="1258.1" width="6" height="10.8" fill="#26a69a"/>
<rect x="508" y="1261.1" width="6" height="7.8" fill="#b2dfdb"/>
<rect x="516" y="1264.2" width="6" height="4.7" fill="#b2dfdb"/>
<rect x="524" y="1265.2" width="6" height="3.7" fill="#b2dfdb"/>
<rect x="531" y="1264.2" width="6" height="4.7" fill="#26a69a"/>
<rect x="539" y="1264.2" width="6" height="4.7" fill="#26a69a"/>
<rect x="547" y="1265.2" width="6" height="3.7" fill="#b2dfdb"/>
<rect x="555" y="1264.2" width="6" height="4.7" fill="#26a69a"/>
<rect x="563" y="1264.2" width="6" height="4.7" fill="#b2dfdb"/>
<rect x="571" y="1263.3" width="6" height="5.6" fill="#26a69a"/>
<rect x="579" y="1260.2" width="6" height="8.7" fill="#26a69a"/>
<rect x="587" y="1256.9" width="6" height="12.0" fill="#26a69a"/>
<rect x="595" y="1255.1" width="6" height="13.8" fill="#26a69a"/>
<rect x="602" y="1253.9" width="6" height="15.0" fill="#26a69a"/>
<rect x="610" y="1256.2" width="6" height="12.7" fill="#b2dfdb"/>
<rect x="618" y="1256.2" width="6" height="12.7" fill="#26a69a"/>
<rect x="626" y="1256.2" width="6" height="12.7" fill="#b2dfdb"/>
<rect x="634" y="1258.1" width="6" height="10.8" fill="#b2dfdb"/>
<rect x="642" y="1260.2" width="6" height="8.7" fill="#b2dfdb"/>
<rect x="650" y="1259.2" width="6" height="9.7" fill="#26a69a"/>
<rect x="658" y="1259.2" width="6" height="9.7" fill="#26a69a"/>
<rect x="665" y="1259.2" width="6" height="9.7" fill="#b2dfdb"/>
<rect x="673" y="1259.2" width="6" height="9.7" fill="#26a69a"/>
<rect x="681" y="1256.2" width="6" height="12.7" fill="#26a69a"/>
<rect x="689" y="1259.2" width="6" height="9.7" fill="#b2dfdb"/>
<rect x="697" y="1261.1" width="6" height="7.8" fill="#b2dfdb"/>
<rect x="705" y="1262.2" width="6" height="6.7" fill="#b2dfdb"/>
<rect x="713" y="1264.2" width="6" height="4.7" fill="#b2dfdb"/>
<rect x="721" y="1266.3" width="6" height="2.6" fill="#b2dfdb"/>
<rect x="728" y="1266.3" width="6" height="2.6" fill="#b2dfdb"/>
<rect x="736" y="1267.2" width="6" height="1.7" fill="#b2dfdb"/>
<rect x="744" y="1268.2" width="6" height="1.0" fill="#b2dfdb"/>
<rect x="752" y="1268.9" width="6" height="2.8" fill="#ff5252"/>
<rect x="760" y="1268.9" width="6" height="1.6" fill="#ffcdd2"/>
<rect x="768" y="1268.9" width="6" height="1.0" fill="#ffcdd2"/>
<rect x="776" y="1268.9" width="6" height="1.6" fill="#ff5252"/>
<rect x="784" y="1268.9" width="6" height="1.0" fill="#ffcdd2"/>
<rect x="792" y="1268.9" width="6" height="1.6" fill="#ff5252"/>
<rect x="799" y="1268.9" width="6" height="1.6" fill="#ff5252"/>
<rect x="807" y="1268.9" width="6" height="2.8" fill="#ff5252"/>
<rect x="815" y="1268.9" width="6" height="3.8" fill="#ff5252"/>
<rect x="823" y="1268.9" width="6" height="5.8" fill="#ff5252"/>
<rect x="831" y="1268.9" width="6" height="6.9" fill="#ff5252"/>
<rect x="839" y="1268.9" width="6" height="7.9" fill="#ff5252"/>
<rect x="847" y="1268.9" width="6" height="7.9" fill="#ff5252"/>
<rect x="855" y="1268.9" width="6" height="7.9" fill="#ffcdd2"/>
<rect x="862" y="1268.9" width="6" height="8.8" fill="#ff5252"/>
<rect x="870" y="1268.9" width="6" height="3.8" fill="#ffcdd2"/>
<rect x="878" y="1268.9" width="6" height="3.4" fill="#ffcdd2"/>
<rect x="886" y="1268.9" width="6" height="5.8" fill="#ff5252"/>
<rect x="894" y="1268.9" width="6" height="2.3" fill="#ffcdd2"/>
<rect x="902" y="1268.9" width="6" height="1.0" fill="#ffcdd2"/>
<rect x="910" y="1267.8" width="6" height="1.1" fill="#26a69a"/>
<rect x="918" y="1264.2" width="6" height="4.7" fill="#26a69a"/>
<rect x="925" y="1263.3" width="6" height="5.6" fill="#26a69a"/>
<rect x="933" y="1262.2" width="6" height="6.7" fill="#26a69a"/>
<rect x="941" y="1260.2" width="6" height="8.7" fill="#26a69a"/>
<rect x="949" y="1257.2" width="6" height="11.7" fill="#26a69a"/>
<rect x="957" y="1259.2" width="6" height="9.7" fill="#b2dfdb"/>
<rect x="965" y="1259.2" width="6" height="9.7" fill="#b2dfdb"/>
<rect x="973" y="1260.2" width="6" height="8.7" fill="#b2dfdb"/>
<rect x="981" y="1261.1" width="6" height="7.8" fill="#b2dfdb"/>
<rect x="989" y="1260.2" width="6" height="8.7" fill="#26a69a"/>
<rect x="996" y="1260.2" width="6" height="8.7" fill="#b2dfdb"/>
<rect x="1004" y="1263.3" width="6" height="5.6" fill="#b2dfdb"/>
<rect x="1012" y="1265.2" width="6" height="3.7" fill="#b2dfdb"/>
<rect x="1020" y="1265.2" width="6" height="3.7" fill="#26a69a"/>
<rect x="1028" y="1260.2" width="6" height="8.7" fill="#26a69a"/>
<rect x="1036" y="1256.2" width="6" height="12.7" fill="#26a69a"/>
<rect x="1044" y="1249.1" width="6" height="19.8" fill="#26a69a"/>
<rect x="1052" y="1242.2" width="6" height="26.7" fill="#26a69a"/>
<rect x="1059" y="1242.2" width="6" height="26.7" fill="#b2dfdb"/>
<rect x="1067" y="1247.1" width="6" height="21.8" fill="#b2dfdb"/>
<rect x="1075" y="1249.1" width="6" height="19.8" fill="#b2dfdb"/>
<rect x="1083" y="1254.2" width="6" height="14.7" fill="#b2dfdb"/>
<rect x="1091" y="1262.2" width="6" height="6.7" fill="#b2dfdb"/>
<rect x="1099" y="1268.5" width="6" height="1.0" fill="#b2dfdb"/>
<rect x="1107" y="1268.9" width="6" height="2.8" fill="#ff5252"/>
<rect x="1115" y="1268.9" width="6" height="6.9" fill="#ff5252"/>
<rect x="1122" y="1268.9" width="6" height="11.8" fill="#ff5252"/>
<rect x="1130" y="1268.9" width="6" height="13.9" fill="#ff5252"/>
<rect x="1138" y="1268.9" width="6" height="5.8" fill="#ffcdd2"/>
<rect x="1146" y="1268.9" width="6" height="1.6" fill="#ffcdd2"/>
<rect x="1154" y="1268.2" width="6" height="1.0" fill="#26a69a"/>
<rect x="1162" y="1268.9" width="6" height="1.0" fill="#ff5252"/>
<rect x="1170" y="1268.9" width="6" height="4.9" fill="#ff5252"/>
<rect x="1178" y="1268.9" width="6" height="6.9" fill="#ff5252"/>
<rect x="1186" y="1268.9" width="6" height="14.0" fill="#ff5252"/>
<rect x="1193" y="1268.9" width="6" height="14.9" fill="#ff5252"/>
<rect x="1201" y="1268.9" width="6" height="11.9" fill="#ffcdd2"/>
<rect x="1209" y="1268.9" width="6" height="12.9" fill="#ff5252"/>
<rect x="1217" y="1268.9" width="6" height="20.0" fill="#ff5252"/>
<rect x="1225" y="1268.9" width="6" height="26.0" fill="#ff5252"/>
<rect x="1233" y="1268.9" width="6" height="26.9" fill="#ff5252"/>
<rect x="1241" y="1268.9" width="6" height="26.0" fill="#ffcdd2"/>
<rect x="1249" y="1268.9" width="6" height="26.9" fill="#ff5252"/>
<rect x="1256" y="1268.9" width="6" height="28.0" fill="#ff5252"/>
<rect x="1264" y="1268.9" width="6" height="26.9" fill="#ffcdd2"/>
<rect x="1272" y="1268.9" width="6" height="23.0" fill="#ffcdd2"/>
<rect x="1280" y="1268.9" width="6" height="17.9" fill="#ffcdd2"/>
<rect x="1288" y="1268.9" width="6" height="15.9" fill="#ffcdd2"/>
<rect x="1296" y="1268.9" width="6" height="14.0" fill="#ffcdd2"/>
<rect x="1304" y="1268.9" width="6" height="7.9" fill="#ffcdd2"/>
<rect x="1312" y="1268.9" width="6" height="6.9" fill="#ffcdd2"/>
<rect x="1319" y="1268.9" width="6" height="5.8" fill="#ffcdd2"/>
<rect x="1327" y="1265.2" width="6" height="3.7" fill="#26a69a"/>
<rect x="1335" y="1261.2" width="6" height="7.7" fill="#26a69a"/>
<rect x="1343" y="1255.2" width="6" height="13.7" fill="#26a69a"/>
<rect x="1351" y="1248.2" width="6" height="20.7" fill="#26a69a"/>
<rect x="1359" y="1241.1" width="6" height="27.8" fill="#26a69a"/>
<rect x="1367" y="1239.2" width="6" height="29.7" fill="#26a69a"/>
<rect x="1375" y="1247.2" width="6" height="21.7" fill="#b2dfdb"/>
<rect x="1383" y="1252.1" width="6" height="16.8" fill="#b2dfdb"/>
<rect x="1390" y="1254.2" width="6" height="14.7" fill="#b2dfdb"/>
<rect x="1398" y="1260.3" width="6" height="8.6" fill="#b2dfdb"/>
<rect x="1406" y="1263.3" width="6" height="5.6" fill="#b2dfdb"/>
<line x1="22" y1="1268.9" x2="1910" y2="1268.9" stroke="#9598a1" stroke-opacity="0.7" stroke-width="2" stroke-dasharray="10 12"/>
<polyline points="22.4,1208.7 30.2,1205.7 38.2,1202.7 46.1,1202.0 53.9,1201.2 61.9,1200.5 69.7,1199.4 77.5,1196.7 85.5,1193.7 93.3,1189.2 101.2,1185.4 109.2,1182.4 117.0,1179.4 125.0,1177.9 132.8,1177.9 140.6,1179.4 148.5,1181.9 156.3,1185.4 164.1,1191.4 172.0,1198.2 179.9,1208.0 187.8,1220.0 195.6,1229.8 203.6,1240.4 211.5,1248.6 219.3,1256.9 227.2,1266.7 235.2,1275.0 243.0,1281.0 250.8,1283.3 258.8,1283.7 266.6,1283.7 274.5,1283.7 282.3,1284.0 290.1,1284.8 298.1,1287.0 305.9,1290.1 313.8,1293.8 321.6,1299.8 329.4,1305.1 337.4,1313.4 345.2,1320.2 353.2,1326.2 361.1,1333.7 368.9,1339.8 376.7,1345.0 384.7,1347.3 392.5,1348.5 400.3,1347.8 408.3,1345.8 416.3,1342.0 424.1,1339.8 431.9,1336.7 439.8,1333.7 447.7,1331.5 455.6,1329.5 463.4,1328.0 471.2,1326.5 479.2,1325.5 487.0,1323.5 495.0,1320.9 502.9,1318.4 510.7,1316.4 518.5,1315.4 526.5,1314.2 534.3,1313.0 542.2,1311.4 550.0,1310.4 558.0,1308.9 565.8,1307.8 573.6,1306.3 581.6,1302.9 589.5,1299.1 597.3,1296.1 605.2,1293.8 613.0,1290.4 621.0,1286.3 628.9,1283.3 636.7,1280.3 644.7,1278.0 652.5,1275.8 660.3,1272.7 668.2,1270.2 676.1,1267.5 684.0,1264.8 691.8,1262.7 699.6,1260.7 707.6,1258.7 715.5,1257.2 723.3,1256.6 731.3,1255.7 739.1,1255.1 746.9,1255.0 754.8,1255.4 762.7,1255.7 770.6,1255.9 778.4,1255.9 786.2,1256.2 794.2,1256.5 810.0,1257.2 817.8,1257.7 825.6,1258.7 833.6,1259.9 841.4,1261.4 849.3,1263.3 857.3,1264.8 865.1,1266.7 872.9,1268.2 880.8,1269.7 888.7,1271.2 896.6,1272.0 904.5,1272.0 912.4,1271.2 920.2,1269.7 928.2,1268.2 936.0,1266.3 943.9,1263.7 951.8,1261.1 959.7,1258.1 967.5,1255.4 975.3,1253.6 983.3,1252.1 991.1,1250.2 998.9,1247.6 1006.7,1246.1 1014.7,1244.9 1022.6,1243.7 1030.4,1241.1 1038.4,1237.0 1046.2,1232.1 1054.0,1225.3 1062.0,1219.3 1069.8,1213.3 1077.7,1208.7 1085.7,1205.0 1093.5,1202.7 1101.3,1202.4 1109.3,1203.0 1117.1,1204.5 1125.0,1207.2 1132.8,1210.2 1140.8,1211.4 1148.6,1211.7 1156.4,1211.4 1164.3,1211.7 1172.2,1212.5 1182.6,1214.0 1195.9,1220.0 1211.7,1226.1 1227.3,1237.4 1243.2,1249.4 1258.8,1264.5 1274.6,1277.3 1290.3,1283.3 1298.1,1285.6 1314.0,1288.6 1321.8,1289.8 1329.8,1288.9 1345.5,1283.3 1353.3,1276.5 1361.3,1270.5 1369.1,1261.5 1377.1,1257.0 1384.8,1253.2 1392.8,1249.1 1400.6,1247.2 1408.6,1245.2" fill="none" stroke="#ff6d00" stroke-width="2" stroke-linejoin="round"/>
<polyline points="22.0,1192.9 30.0,1191.4 38.0,1192.9 46.0,1197.9 54.0,1198.2 62.0,1198.5 70.0,1194.4 77.0,1188.0 85.0,1181.6 93.0,1171.1 101.0,1165.4 109.0,1166.9 117.0,1169.6 125.0,1172.6 133.0,1179.4 140.0,1186.9 148.0,1192.5 156.0,1199.7 164.0,1214.8 172.0,1227.6 180.0,1246.4 188.0,1265.2 196.0,1273.5 204.0,1281.8 211.0,1287.5 219.0,1293.5 227.0,1299.8 235.0,1305.1 243.0,1303.6 251.0,1295.3 259.0,1286.3 267.0,1282.8 274.0,1283.3 282.0,1284.8 290.0,1287.0 298.0,1294.6 306.0,1302.9 314.0,1311.1 322.0,1321.7 330.0,1327.7 337.0,1338.3 345.0,1349.5 353.0,1356.3 361.0,1363.1 369.0,1365.4 377.0,1363.9 385.0,1358.6 393.0,1351.1 401.0,1344.3 408.0,1335.2 416.0,1331.5 424.0,1330.7 432.0,1327.0 440.0,1321.4 448.0,1322.0 456.0,1322.9 464.0,1322.9 471.0,1321.7 479.0,1320.5 487.0,1317.2 495.0,1311.9 503.0,1307.8 511.0,1308.4 519.0,1309.6 527.0,1309.6 534.0,1308.1 542.0,1306.3 550.0,1305.9 558.0,1305.1 566.0,1303.6 574.0,1300.6 582.0,1294.6 590.0,1289.0 598.0,1283.3 605.0,1279.2 613.0,1277.7 621.0,1273.5 629.0,1271.2 637.0,1270.0 645.0,1269.0 653.0,1265.2 661.0,1262.7 668.0,1260.7 676.0,1257.2 684.0,1252.1 692.0,1251.7 700.0,1251.2 708.0,1251.2 716.0,1252.7 724.0,1253.5 731.0,1253.2 739.0,1253.2 747.0,1254.7 755.0,1257.7 763.0,1257.2 771.0,1256.6 779.0,1257.0 787.0,1256.9 795.0,1257.2 802.0,1257.7 810.0,1258.7 818.0,1259.9 826.0,1263.7 834.0,1266.0 842.0,1268.2 850.0,1270.5 858.0,1272.3 865.0,1274.2 873.0,1273.8 881.0,1274.7 889.0,1276.2 897.0,1276.2 905.0,1273.8 913.0,1270.5 921.0,1266.3 928.0,1263.3 936.0,1259.9 944.0,1255.4 952.0,1249.7 960.0,1247.6 968.0,1246.0 976.0,1244.1 984.0,1244.1 992.0,1241.1 999.0,1238.1 1007.0,1239.6 1015.0,1240.7 1023.0,1239.2 1031.0,1232.5 1039.0,1223.5 1047.0,1214.0 1055.0,1198.9 1062.0,1192.5 1070.0,1190.4 1078.0,1188.0 1086.0,1188.9 1094.0,1195.9 1102.0,1201.2 1110.0,1205.0 1118.0,1209.9 1125.0,1218.5 1133.0,1223.0 1141.0,1217.5 1149.0,1212.5 1157.0,1210.6 1165.0,1212.0 1173.0,1216.3 1181.0,1219.3 1189.0,1229.8 1196.0,1234.4 1204.0,1233.6 1212.0,1237.4 1220.0,1249.4 1228.0,1260.7 1236.0,1268.3 1244.0,1274.3 1252.0,1282.6 1259.0,1290.9 1267.0,1295.4 1275.0,1296.4 1283.0,1294.9 1291.0,1296.9 1299.0,1297.9 1307.0,1294.3 1315.0,1294.6 1322.0,1295.4 1330.0,1287.1 1338.0,1278.8 1346.0,1269.8 1354.0,1254.7 1362.0,1241.1 1370.0,1232.6 1378.0,1235.1 1386.0,1236.2 1393.0,1233.6 1401.0,1236.6 1409.0,1239.2" fill="none" stroke="#2962ff" stroke-width="2" stroke-linejoin="round"/>
</g>
<rect x="22" y="890.2" width="2046" height="2" fill="#dde0e8"/>
<rect x="22" y="1138.6" width="2046" height="2" fill="#dde0e8"/>
<text transform="translate(21.37,43.95) scale(1.0460,1)" font-size="27.62" fill="#131722">cryptodotnews</text>
<text transform="translate(214.92,43.95) scale(1.0419,1)" font-size="27.62" fill="#131722">published</text>
<text transform="translate(344.13,43.95) scale(1.0213,1)" font-size="27.62" fill="#131722">on</text>
<text transform="translate(382.78,43.95) scale(1.0142,1)" font-size="27.62" fill="#131722">TradingView.com,</text>
<text transform="translate(610.72,43.95) scale(1.0064,1)" font-size="27.62" fill="#131722">Jan</text>
<text transform="translate(662.00,43.95) scale(0.8523,1)" font-size="27.62" fill="#131722">17,</text>
<text transform="translate(701.32,43.95) scale(1.0501,1)" font-size="27.62" fill="#131722">2025</text>
<text transform="translate(773.56,43.95) scale(1.0723,1)" font-size="27.62" fill="#131722">05:45</text>
<text transform="translate(854.30,43.95) scale(0.9825,1)" font-size="27.62" fill="#131722">UTC</text>
<text transform="translate(38.70,102.90) scale(1.0141,1)" font-size="27.47" fill="#131722">Ethereum</text>
<text transform="translate(166.59,102.90) scale(1.2320,1)" font-size="27.47" fill="#131722">/</text>
<text x="184.19" y="102.90" font-size="27.47" fill="#131722">TetherUS,</text>
<text transform="translate(311.37,102.90) scale(0.9296,1)" font-size="27.47" fill="#131722">1W,</text>
<text transform="translate(362.91,102.90) scale(0.9495,1)" font-size="27.47" fill="#131722">BINANCE</text>
<text x="493.77" y="102.90" font-size="27.47" fill="#131722">O3,267.30</text>
<text transform="translate(636.71,102.90) scale(1.0140,1)" font-size="27.47" fill="#131722">H3,473.75</text>
<text transform="translate(779.94,102.90) scale(1.0219,1)" font-size="27.47" fill="#131722">L2,920.00</text>
<text transform="translate(920.37,102.90) scale(0.9912,1)" font-size="27.47" fill="#131722">C3,360.51</text>
<rect x="1919.3" y="68.5" width="139" height="55" rx="7" fill="#fff" stroke="#e0e3eb" stroke-width="1.5"/>
<text transform="translate(1939.13,104.90) scale(0.9503,1)" font-size="27.33" fill="#131722">USDT</text>
<text transform="translate(1929.56,198.25) scale(1.0797,1)" font-size="27.47" fill="#131722">5,000.00</text>
<text transform="translate(1930.59,280.05) scale(1.0700,1)" font-size="27.47" fill="#131722">4,500.00</text>
<text transform="translate(1930.59,361.85) scale(1.0700,1)" font-size="27.47" fill="#131722">4,000.00</text>
<text transform="translate(1929.56,443.65) scale(1.0797,1)" font-size="27.47" fill="#131722">3,500.00</text>
<text transform="translate(1929.56,525.45) scale(1.0797,1)" font-size="27.47" fill="#131722">3,000.00</text>
<text transform="translate(1929.56,607.25) scale(1.0797,1)" font-size="27.47" fill="#131722">2,500.00</text>
<text transform="translate(1929.56,689.05) scale(1.0797,1)" font-size="27.47" fill="#131722">2,000.00</text>
<text transform="translate(1931.56,770.85) scale(1.0610,1)" font-size="27.47" fill="#131722">1,500.00</text>
<text transform="translate(1931.56,852.65) scale(1.0610,1)" font-size="27.47" fill="#131722">1,000.00</text>
<path d="M1912,192 H2054 a3.5,3.5 0 0 1 3.5,3.5 V226 a3.5,3.5 0 0 1 -3.5,3.5 H1912 Z" fill="#000"/>
<text transform="translate(1929.98,218.00) scale(1.0833,1)" font-size="27.47" fill="#fff">4,878.00</text>
<path d="M1912,241 H2054 a3.5,3.5 0 0 1 3.5,3.5 V274.5 a3.5,3.5 0 0 1 -3.5,3.5 H1912 Z" fill="#000"/>
<text transform="translate(1929.99,267.50) scale(1.0736,1)" font-size="27.47" fill="#fff">4,578.44</text>
<path d="M1912,440 H2053.5 a4,4 0 0 1 4,4 V505 a4,4 0 0 1 -4,4 H1912 Z" fill="#00bcd4"/>
<text transform="translate(1929.56,465.60) scale(1.0835,1)" font-size="27.47" fill="#131722">3,360.51</text>
<text transform="translate(1930.96,496.40) scale(1.0485,1)" font-size="27.47" fill="#131722">2d 19h</text>
<text transform="translate(1929.93,939.80) scale(1.0847,1)" font-size="27.47" fill="#131722">80.00</text>
<text transform="translate(1930.98,1078.40) scale(1.0689,1)" font-size="27.47" fill="#131722">40.00</text>
<path d="M1912,967 H2011.5 a4,4 0 0 1 4,4 V1001 a4,4 0 0 1 -4,4 H1912 Z" fill="#fdd835"/>
<text transform="translate(1929.93,995.00) scale(1.0847,1)" font-size="27.47" fill="#000">55.36</text>
<path d="M1912,1005 H2011.5 a4,4 0 0 1 4,4 V1039 a4,4 0 0 1 -4,4 H1912 Z" fill="#7e57c2"/>
<text transform="translate(1929.93,1033.00) scale(1.0847,1)" font-size="27.47" fill="#fff">53.28</text>
<path d="M1912,1169 H2029.6 a4,4 0 0 1 4,4 V1203 a4,4 0 0 1 -4,4 H1912 Z" fill="#2962ff"/>
<text transform="translate(1930.89,1197.20) scale(1.0728,1)" font-size="27.47" fill="#fff">166.29</text>
<path d="M1912,1207 H2029.6 a4,4 0 0 1 4,4 V1241 a4,4 0 0 1 -4,4 H1912 Z" fill="#ff6d00"/>
<text transform="translate(1930.89,1234.80) scale(1.0728,1)" font-size="27.47" fill="#fff">131.43</text>
<path d="M1912,1245 H2011.5 a4,4 0 0 1 4,4 V1278 a4,4 0 0 1 -4,4 H1912 Z" fill="#b2dfdb"/>
<text transform="translate(1929.93,1272.30) scale(1.0847,1)" font-size="27.47" fill="#000">34.86</text>
<text transform="translate(1930.16,1351.20) scale(1.0739,1)" font-size="27.47" fill="#131722">−400.00</text>
<text transform="translate(129.76,1429.90) scale(1.1331,1)" font-size="27.33" fill="#131722" font-weight="bold">2022</text>
<text transform="translate(350.80,1429.70) scale(1.0443,1)" font-size="27.03" fill="#131722">Jul</text>
<text transform="translate(539.55,1429.90) scale(1.1331,1)" font-size="27.33" fill="#131722" font-weight="bold">2023</text>
<text transform="translate(760.80,1429.70) scale(1.0443,1)" font-size="27.03" fill="#131722">Jul</text>
<text transform="translate(948.77,1429.90) scale(1.1156,1)" font-size="27.33" fill="#131722" font-weight="bold">2024</text>
<text transform="translate(1171.28,1429.70) scale(1.0106,1)" font-size="27.03" fill="#131722">Jul</text>
<text transform="translate(1367.18,1429.90) scale(1.1156,1)" font-size="27.33" fill="#131722" font-weight="bold">2025</text>
<text transform="translate(1588.43,1429.70) scale(1.0443,1)" font-size="27.03" fill="#131722">Jul</text>
<text transform="translate(1777.37,1429.90) scale(1.1331,1)" font-size="27.33" fill="#131722" font-weight="bold">2026</text>
<g fill="#131722"><path d="M22.1,1477 H38.8 V1497.6 H30.6 V1484.7 H22.1 Z"/><circle cx="46.2" cy="1481.4" r="4.6"/><path d="M55.7,1477 H64.8 L56.1,1497.6 H46.4 Z"/></g>
<text x="73.20" y="1499.90" font-size="29.80" fill="#131722">TradingView</text>
</svg></body></html>
